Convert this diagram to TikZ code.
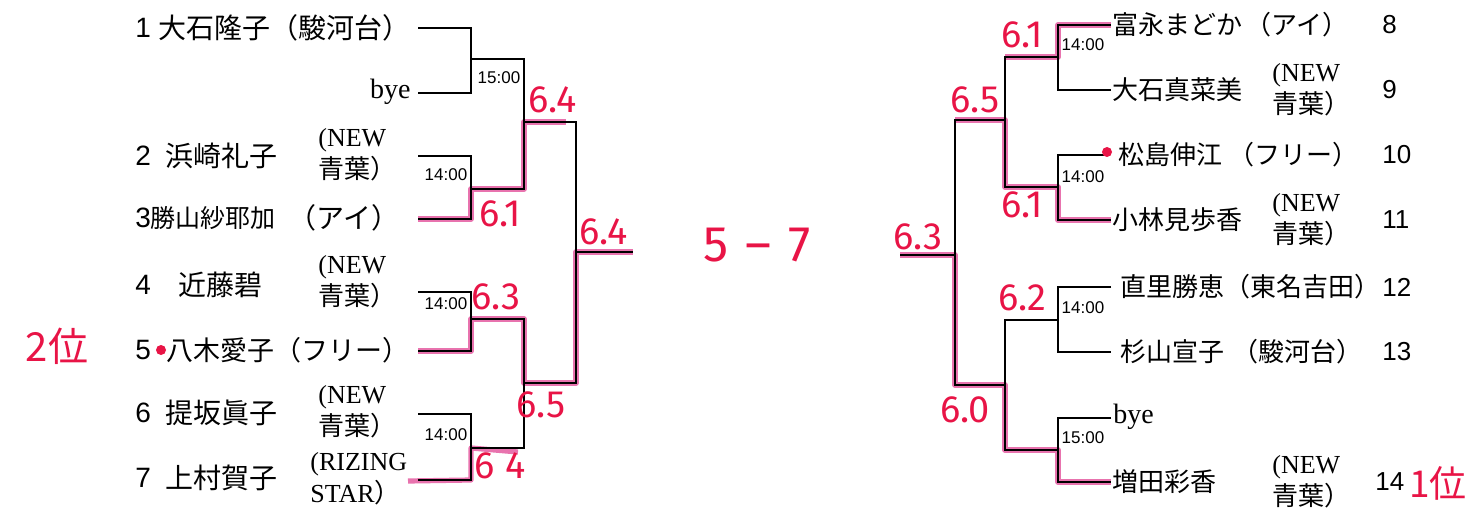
\documentclass[tikz,border=0pt]{standalone}
\usepackage{fontspec}
\setmainfont{Liberation Serif}
\newfontfamily\jp{Noto Sans CJK JP}
\newfontfamily\sansf{Liberation Sans}
\newfontfamily\hw{Fira Sans}
\newcommand\J[1]{{\jp #1}}
\definecolor{hlpink}{RGB}{228,90,160}
\definecolor{hwred}{RGB}{232,20,70}
\begin{document}
\begin{tikzpicture}[x=0.5pt,y=-0.5pt,
  br/.style={line width=0.9pt,draw=black},
  hl/.style={line width=2.6pt,draw=hlpink,line join=round,opacity=0.85},
  tm/.style={inner sep=0,font=\sansf\fontsize{8.5}{9}\selectfont},
  hand/.style={inner sep=0,text=hwred,font=\hw\fontsize{19}{20}\selectfont},
  numl/.style={inner sep=0,anchor=west,font=\sansf\fontsize{14}{16}\selectfont},
  numr/.style={inner sep=0,anchor=west,font=\sansf\fontsize{13}{16}\selectfont},
  nml/.style={inner sep=0,anchor=west,font=\jp\fontsize{14}{16}\selectfont},
  nmr/.style={inner sep=0,anchor=west,font=\jp\fontsize{13}{16}\selectfont},
  club/.style={inner sep=0,anchor=west,align=left,font=\fontsize{13}{16}\selectfont},
  byel/.style={inner sep=0,font=\fontsize{14}{16}\selectfont},
  rdot/.style={circle,fill=hwred,inner sep=0,minimum size=5pt}
]
\useasboundingbox (0,0) rectangle (1466,513);
% ---------- coordinates, left half ----------
\coordinate (L1a) at (418,28);  \coordinate (L1b) at (471,28);
\coordinate (LBa) at (418,93);  \coordinate (LBb) at (471,93);
\coordinate (M1a) at (471,59);  \coordinate (M1b) at (524,59);
\coordinate (L2a) at (418,156); \coordinate (L2b) at (471,156);
\coordinate (L3a) at (418,219); \coordinate (L3b) at (471,219);
\coordinate (M2a) at (471,189); \coordinate (M2b) at (524,189);
\coordinate (S1a) at (524,122); \coordinate (S1b) at (576,122);
\coordinate (S1p) at (566,122);
\coordinate (L4a) at (418,292); \coordinate (L4b) at (471,292);
\coordinate (L5a) at (418,351); \coordinate (L5b) at (471,351);
\coordinate (M3a) at (471,319); \coordinate (M3b) at (524,319);
\coordinate (L6a) at (418,414); \coordinate (L6b) at (471,414);
\coordinate (L7a) at (418,480); \coordinate (L7b) at (471,480);
\coordinate (L7h) at (408,481);
\coordinate (M4a) at (471,448); \coordinate (M4b) at (524,448);
\coordinate (M4p) at (518,452);
\coordinate (S2a) at (524,383); \coordinate (S2b) at (576,383);
\coordinate (FLa) at (576,252); \coordinate (FLb) at (633,252);
% ---------- coordinates, right half ----------
\coordinate (R8a) at (1111,25);   \coordinate (R8b) at (1058,25);
\coordinate (R9a) at (1111,90);   \coordinate (R9b) at (1058,90);
\coordinate (N1a) at (1058,57);   \coordinate (N1b) at (1005,57);
\coordinate (R10a) at (1107,155); \coordinate (R10b) at (1058,155);
\coordinate (R11a) at (1111,220); \coordinate (R11b) at (1058,220);
\coordinate (N2a) at (1058,187);  \coordinate (N2b) at (1005,187);
\coordinate (T1a) at (1005,120);  \coordinate (T1b) at (955,120);
\coordinate (R12a) at (1111,287); \coordinate (R12b) at (1058,287);
\coordinate (R13a) at (1111,352); \coordinate (R13b) at (1058,352);
\coordinate (N3a) at (1058,320);  \coordinate (N3b) at (1005,320);
\coordinate (RBa) at (1111,418);  \coordinate (RBb) at (1058,418);
\coordinate (R14a) at (1111,482); \coordinate (R14b) at (1058,482);
\coordinate (N4a) at (1058,450);  \coordinate (N4b) at (1005,450);
\coordinate (T2a) at (1005,385);  \coordinate (T2b) at (955,385);
\coordinate (FRa) at (955,255);   \coordinate (FRb) at (900,255);
% ---------- pink highlights ----------
\draw[hl] (L3a) -- (L3b) -- (M2a) -- (M2b) -- (S1a) -- (S1p);
\draw[hl] (L5a) -- (L5b) -- (M3a) -- (M3b) -- (S2a) -- (S2b) -- (FLa) -- (FLb);
\draw[hl] (L7h) -- (L7b) -- (M4a) -- (M4p);
\draw[hl] (R8a) -- (R8b) -- (N1a) -- (N1b);
\draw[hl] (R11a) -- (R11b) -- (N2a) -- (N2b) -- (T1a) -- (T1b);
\draw[hl] (R14a) -- (R14b) -- (N4a) -- (N4b) -- (T2a) -- (T2b) -- (FRa) -- (FRb);
% ---------- bracket lines, left ----------
\draw[br] (L1a) -- (L1b) -- (LBb) -- (LBa);
\draw[br] (M1a) -- (M1b) -- (M2b) -- (M2a);
\draw[br] (L2a) -- (L2b) -- (L3b) -- (L3a);
\draw[br] (S1a) -- (S1b) -- (S2b) -- (S2a);
\draw[br] (L4a) -- (L4b) -- (L5b) -- (L5a);
\draw[br] (M3a) -- (M3b) -- (M4b) -- (M4a);
\draw[br] (L6a) -- (L6b) -- (L7b) -- (L7a);
\draw[br] (FLa) -- (FLb);
% ---------- bracket lines, right ----------
\draw[br] (R8a) -- (R8b) -- (R9b) -- (R9a);
\draw[br] (N1a) -- (N1b) -- (N2b) -- (N2a);
\draw[br] (R10a) -- (R10b) -- (R11b) -- (R11a);
\draw[br] (T1a) -- (T1b) -- (T2b) -- (T2a);
\draw[br] (R12a) -- (R12b) -- (R13b) -- (R13a);
\draw[br] (N3a) -- (N3b) -- (N4b) -- (N4a);
\draw[br] (RBa) -- (RBb) -- (R14b) -- (R14a);
\draw[br] (FRa) -- (FRb);
% ---------- match times ----------
\node[tm] (t1) at (499,78) {15:00};
\node[tm] (t2) at (446,175) {14:00};
\node[tm] (t3) at (446,304) {14:00};
\node[tm] (t4) at (446,435) {14:00};
\node[tm] (t5) at (1083,45) {14:00};
\node[tm] (t6) at (1083,177) {14:00};
\node[tm] (t7) at (1083,308) {14:00};
\node[tm] (t8) at (1083,438) {15:00};
% ---------- left entries ----------
\node[numl] (k1) at (135,28) {1};
\node[nml] (e1) at (158,28) {大石隆子（駿河台）};
\node[byel,anchor=east] (b1) at (411,92) {bye};
\node[numl] (k2) at (135,156) {2};
\node[nml] (e2) at (165,156) {浜崎礼子};
\node[club] (c2) at (318,155) {(NEW\\\J{青葉）}};
\node[numl] (k3) at (135,218) {3};
\node[nml,font=\jp\fontsize{12.5}{16}\selectfont] (e3) at (150,218) {勝山紗耶加};
\node[nml] (f3) at (288,218) {（アイ）};
\node[numl] (k4) at (135,285) {4};
\node[nml] (e4) at (178,285) {近藤碧};
\node[club] (c4) at (318,282) {(NEW\\\J{青葉）}};
\node[numl] (k5) at (135,350) {5};
\node[nml,font=\jp\fontsize{13.5}{16}\selectfont] (e5) at (166,350) {八木愛子（フリー）};
\node[numl] (k6) at (135,413) {6};
\node[nml] (e6) at (165,413) {提坂眞子};
\node[club] (c6) at (318,412) {(NEW\\\J{青葉）}};
\node[numl] (k7) at (135,478) {7};
\node[nml] (e7) at (165,478) {上村賀子};
\node[club] (c7) at (310,479) {(RIZING\\STAR\J{）}};
% ---------- right entries ----------
\node[nmr] (e8) at (1112,25) {富永まどか};
\node[nmr] (f8) at (1245,25) {（アイ）};
\node[numr] (k8) at (1382,25) {8};
\node[nmr] (e9) at (1112,90) {大石真菜美};
\node[club] (c9) at (1272,90) {(NEW\\\J{青葉）}};
\node[numr] (k9) at (1382,90) {9};
\node[nmr] (e10) at (1118,155) {松島伸江};
\node[nmr] (f10) at (1228,155) {（フリー）};
\node[numr] (k10) at (1382,155) {10};
\node[nmr] (e11) at (1112,220) {小林見歩香};
\node[club] (c11) at (1272,220) {(NEW\\\J{青葉）}};
\node[numr] (k11) at (1382,220) {11};
\node[nmr] (e12) at (1120,287) {直里勝恵（東名吉田）};
\node[numr] (k12) at (1382,287) {12};
\node[nmr] (e13) at (1120,352) {杉山宣子};
\node[nmr] (f13) at (1232,352) {（駿河台）};
\node[numr] (k13) at (1382,352) {13};
\node[byel,anchor=west] (b2) at (1113,417) {bye};
\node[nmr] (e14) at (1112,482) {増田彩香};
\node[club] (c14) at (1272,482) {(NEW\\\J{青葉）}};
\node[numr] (k14) at (1375,482) {14};
% ---------- red dots ----------
\node[rdot] (d5) at (161,350) {};
\node[rdot] (d10) at (1107,152) {};
% ---------- handwritten scores ----------
\node[hand] (h1) at (553,100) {6.4};
\node[hand] (h2) at (500,214) {6.1};
\node[hand] (h3) at (604,232) {6.4};
\node[hand] (h4) at (496,297) {6.3};
\node[hand] (h5) at (541,405) {6.5};
\node[hand] (h6) at (500,466) {6 4};
\node[hand] (h7) at (1022,35) {6.1};
\node[hand] (h8) at (975,100) {6.5};
\node[hand] (h9) at (1022,205) {6.1};
\node[hand] (h10) at (918,237) {6.3};
\node[hand] (h11) at (1022,298) {6.2};
\node[hand] (h12) at (965,410) {6.0};
\node[hand,font=\hw\fontsize{25}{26}\selectfont] (h13) at (757,245) {5\,\,–\,\,7};
\node[hand,font=\jp\fontsize{20}{22}\selectfont] (h14) at (57,346) {2位};
\node[hand,font=\jp\fontsize{18.5}{20}\selectfont] (h15) at (1438,483) {1位};
\end{tikzpicture}
\end{document}
